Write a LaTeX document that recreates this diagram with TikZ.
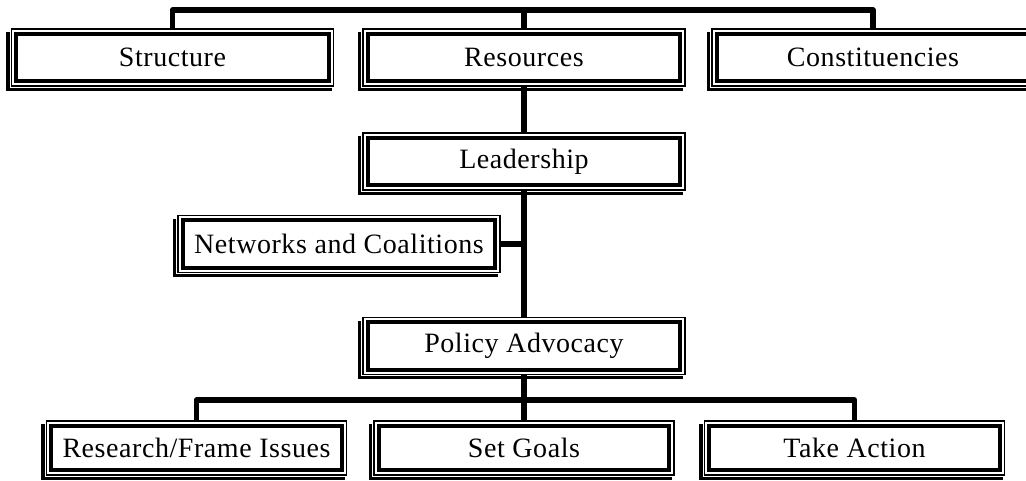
\documentclass[tikz,border=0pt]{standalone}
\usepackage{fontspec}
\setmainfont{Liberation Serif}
\usetikzlibrary{backgrounds,calc}
\begin{document}
\begin{tikzpicture}[x=1pt,y=-1pt,
  panel/.style={minimum width=#1, minimum height=57, inner sep=0pt, outer sep=0pt,
    font=\fontsize{28}{32}\selectfont\addfontfeature{LetterSpace=2}},
  panel/.default=322,
  link/.style={line width=5.5pt, line join=round, line cap=butt},
]
\useasboundingbox (0,0) rectangle (1026,480);

% top row
\node[panel] (structure) at (172.5,57.5) {Structure};
\node[panel] (resources) at (524,57.5) {Resources};
\node[panel] (constit) at (873,57.5) {Constituencies};
% middle column
\node[panel] (leader) at (524,161.5) {Leadership};
\node[panel] (networks) at (339,244) {Networks and Coalitions};
\node[panel] (policy) at (524,346) {Policy Advocacy};
% bottom row
\node[panel=300, minimum height=54] (research) at (196.5,448) {Research/Frame Issues};
\node[panel=300, minimum height=54] (goals) at (524,448) {Set Goals};
\node[panel=300, minimum height=54] (action) at (854.5,448) {Take Action};

% framed panels: shadow, thin outer rule, thick inner rule
\begin{scope}[on background layer]
\foreach \n in {structure,resources,constit,leader,networks,policy,research,goals,action} {
  \fill ($(\n.north west)+(-5.5,3)$) rectangle ($(\n.south east)+(-2,4.5)$);
  \draw[white, line width=3.5pt, fill=white] (\n.north west) rectangle (\n.south east);
  \draw[line width=1.4pt] (\n.north west) rectangle (\n.south east);
  \draw[line width=3.8pt] ($(\n.north west)+(4.8,4.8)$) rectangle ($(\n.south east)+(-4.8,-4.8)$);
}
\end{scope}

% connectors
\coordinate (topbar) at (0,10);
\coordinate (botbar) at (0,400);
\draw[link] (structure.north) -- (structure.north |- topbar) -- (constit.north |- topbar) -- (constit.north);
\draw[link] (resources.north) -- (resources.north |- topbar);
\draw[link] (resources.south) -- (leader.north);
\draw[link] (leader.south) -- (policy.north);
\draw[link] (networks.east) -- (networks.east -| leader.south);
\draw[link] (policy.south) -- (policy.south |- botbar);
\draw[link] (research.north) -- (research.north |- botbar) -- (action.north |- botbar) -- (action.north);
\draw[link] (goals.north) -- (goals.north |- botbar);
\end{tikzpicture}
\end{document}
